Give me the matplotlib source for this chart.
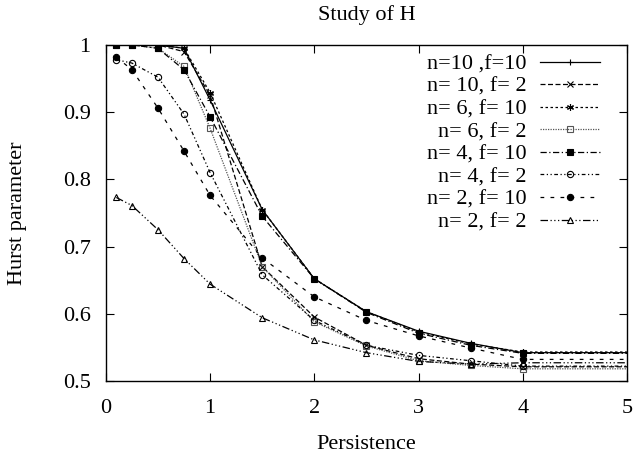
import numpy as np
import matplotlib.pyplot as plt

plt.rcParams['font.family'] = ['Liberation Serif', 'DejaVu Serif']

# persistence values (last point only carries the flat line out to the edge)
persistence = [0.1, 0.25, 0.5, 0.75, 1.0, 1.5, 2.0, 2.5, 3.0, 3.5, 4.0, 5.0]

h_n10_f10 = [1.0, 1.0, 1.0, 0.995, 0.918, 0.755, 0.652, 0.603, 0.574, 0.556, 0.542, 0.542]
h_n10_f2 = [1.0, 1.0, 1.0, 0.990, 0.925, 0.670, 0.595, 0.553, 0.533, 0.525, 0.521, 0.521]
h_n6_f10 = [1.0, 1.0, 1.0, 0.995, 0.929, 0.755, 0.652, 0.603, 0.573, 0.555, 0.543, 0.543]
h_n6_f2 = [1.0, 1.0, 0.995, 0.968, 0.876, 0.670, 0.588, 0.552, 0.530, 0.523, 0.518, 0.518]
h_n4_f10 = [1.0, 1.0, 0.995, 0.963, 0.893, 0.745, 0.652, 0.602, 0.571, 0.553, 0.541, 0.541]
h_n4_f2 = [0.978, 0.973, 0.952, 0.897, 0.810, 0.658, 0.590, 0.553, 0.538, 0.530, 0.522, 0.522]
h_n2_f10 = [0.982, 0.963, 0.906, 0.842, 0.776, 0.683, 0.625, 0.590, 0.567, 0.549, 0.532, 0.532]
h_n2_f2 = [0.773, 0.761, 0.725, 0.682, 0.644, 0.594, 0.561, 0.542, 0.529, 0.525, 0.527, 0.527]

labels = ["n=10 ,f=10", "n= 10, f= 2", "n= 6, f= 10", "n= 6, f= 2",
          "n= 4, f= 10", "n= 4, f= 2", "n= 2, f= 10", "n= 2, f= 2"]
series = [h_n10_f10, h_n10_f2, h_n6_f10, h_n6_f2, h_n4_f10, h_n4_f2, h_n2_f10, h_n2_f2]

styles = [
    dict(ls='-', marker='+', mfc='k', color='k', ms=5),
    dict(ls=(0, (4, 2)), marker='x', mfc='k', color='k', ms=4),
    dict(ls=(0, (2, 2)), marker=(6, 2, 0), mfc='k', color='k', ms=5),
    dict(ls=(0, (1, 1)), marker='s', mfc='none', color='#555555', ms=5),
    dict(ls=(0, (5, 2, 1, 2)), marker='s', mfc='k', color='k', ms=5),
    dict(ls=(0, (3, 2, 1, 2, 1, 2)), marker='o', mfc='none', color='k', ms=4.5),
    dict(ls=(0, (3, 5)), marker='o', mfc='k', color='k', ms=4.5),
    dict(ls=(0, (6, 2, 1, 2, 1, 2, 1, 2)), marker='^', mfc='none', color='k', ms=4.5),
]

fig = plt.figure(figsize=(6.34, 4.54), dpi=100)
ax = fig.add_axes([0.167, 0.161, 0.822, 0.740])

for vals, lab, st in zip(series, labels, styles):
    ax.plot(persistence, vals, label=lab, lw=0.9, mew=0.8,
            markevery=list(range(len(persistence) - 1)), **st)

ax.set_xlim(0, 5)
ax.set_ylim(0.5, 1.0)
ax.set_xticks([0, 1, 2, 3, 4, 5])
ax.set_yticks([0.5, 0.6, 0.7, 0.8, 0.9, 1.0])
ax.set_yticklabels(["0.5", "0.6", "0.7", "0.8", "0.9", "1"])
ax.tick_params(direction='in', top=True, right=True, length=6, labelsize=16)
ax.tick_params(axis='x', pad=13)
ax.tick_params(axis='y', pad=11)
for sp in ax.spines.values():
    sp.set_linewidth(1.0)

ax.set_title("Study of H", fontsize=16, pad=18)
ax.set_xlabel("Persistence", fontsize=16, labelpad=12)
ax.set_ylabel("Hurst parameter", fontsize=16, labelpad=26)

leg = ax.legend(loc='upper right', bbox_to_anchor=(0.965, 1.0), frameon=False,
                markerfirst=False, fontsize=16, handlelength=2.7,
                labelspacing=0.09, borderaxespad=0.0, handletextpad=0.59)

fig.savefig("out.png", dpi=100)
